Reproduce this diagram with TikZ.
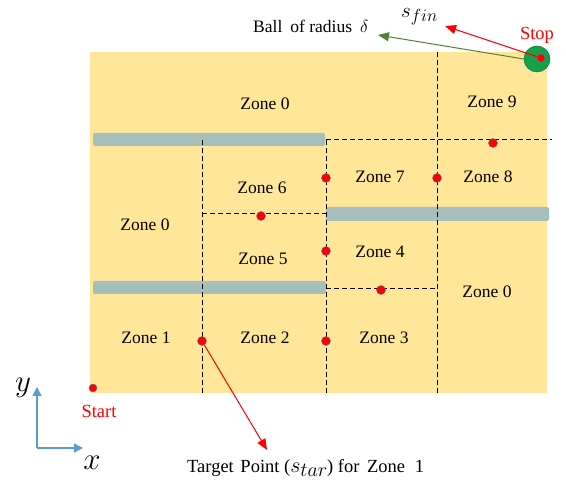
\RequirePackage{fix-cm}
\documentclass[tikz,border=0pt]{standalone}
\usepackage{fontspec}
\setmainfont{Liberation Serif}
\usetikzlibrary{arrows.meta}
\definecolor{field}{HTML}{FFE699}
\definecolor{wall}{HTML}{A7BFBB}
\definecolor{ballgreen}{HTML}{16A04A}
\definecolor{arrowgreen}{HTML}{548235}
\definecolor{axisblue}{HTML}{5B9BD5}
\definecolor{dotrim}{HTML}{5A6E9A}
% state symbol with a large italic subscript
\newcommand{\statesym}[3]{{\fontsize{#1}{#1}\selectfont$s$}\raisebox{-4pt}{\fontsize{#2}{#2}\selectfont$#3$}}
\tikzset{
  wallbar/.style={fill=wall, rounded corners=2pt},
  gridline/.style={dash pattern=on 5pt off 3pt, line width=1pt},
  waypt/.style={circle, fill=red, draw=dotrim, line width=0.4pt, inner sep=0pt, minimum size=9pt},
  zonelabel/.style={font=\fontsize{17.5}{20}\selectfont},
  redlabel/.style={font=\fontsize{18.5}{21}\selectfont, text=red},
  plainlabel/.style={font=\fontsize{17.5}{20}\selectfont, inner sep=0pt},
  redarrow/.style={draw=red, line width=1pt, -{Triangle[length=11pt,width=9pt]}},
  greenarrow/.style={draw=arrowgreen, line width=1pt, -{Triangle[length=11pt,width=9pt]}},
  axisarrow/.style={draw=axisblue, line width=1.3pt, -{Triangle[length=9pt,width=9pt]}},
  axislabel/.style={font=\fontsize{31}{34}\selectfont, inner sep=0pt, anchor=base},
}
\begin{document}
\begin{tikzpicture}[x=1pt,y=-1pt]
\useasboundingbox (0,0) rectangle (566,486);
% workspace
\fill[field] (90,52) rectangle (547,393);
% walls
\fill[wallbar] (93,133) rectangle (325,146);
\fill[wallbar] (326,207) rectangle (549,221);
\fill[wallbar] (93,281) rectangle (326,294);
% zone borders
\draw[gridline] (202,140) -- (202,393);
\draw[gridline] (326,140) -- (326,393);
\draw[gridline] (437,52) -- (437,393);
\draw[gridline] (326,140) -- (552,140);
\draw[gridline] (202,214) -- (326,214);
\draw[gridline] (326,289) -- (437,289);
% zone names
\node[zonelabel] (z0a) at (265,104) {Zone 0};
\node[zonelabel] (z9) at (492,102) {Zone 9};
\node[zonelabel] (z6) at (262,188) {Zone 6};
\node[zonelabel] (z7) at (380,177) {Zone 7};
\node[zonelabel] (z8) at (488,177) {Zone 8};
\node[zonelabel] (z0b) at (145,225) {Zone 0};
\node[zonelabel] (z5) at (263,259) {Zone 5};
\node[zonelabel] (z4) at (380,252) {Zone 4};
\node[zonelabel] (z0c) at (487,292) {Zone 0};
\node[zonelabel] (z1) at (146,338) {Zone 1};
\node[zonelabel] (z2) at (265,338) {Zone 2};
\node[zonelabel] (z3) at (384,338) {Zone 3};
% target points between zones
\node[waypt] (t98) at (493,143) {};
\node[waypt] (t76) at (326,178) {};
\node[waypt] (t87) at (437,178) {};
\node[waypt] (t65) at (261,216) {};
\node[waypt] (t54) at (326,251) {};
\node[waypt] (t43) at (381,290) {};
\node[waypt] (t12) at (202,341) {};
\node[waypt] (t23) at (326,341) {};
\node[waypt, minimum size=8pt] (start) at (93,388) {};
% goal region
\node[circle, fill=ballgreen, draw=ballgreen!70!black, line width=0.5pt, minimum size=26pt, inner sep=0pt] (ball) at (537,59) {};
\node[waypt, minimum size=8pt] (stop) at (541,58) {};
% annotations
\node[redlabel] (stoplbl) at (537,35) {Stop};
\node[redlabel] (startlbl) at (99,411) {Start};
\node[plainlabel, anchor=base west] (balllbl) at (253,33) {Ball\hspace{8pt}of radius\hspace{8pt}$\delta$};
\node[plainlabel, anchor=base west] (sfin) at (401,18) {\statesym{21}{17.5}{fin}};
\node[plainlabel, font=\fontsize{18.5}{21}\selectfont, anchor=base west] (target) at (187,473) {Target\hspace{2pt} Point (\statesym{22}{20}{tar}) for\hspace{3pt} Zone\hspace{5pt} 1};
\coordinate (sfintip) at (445,26);
\coordinate (balltip) at (378,35);
\coordinate (targettip) at (267,450);
\draw[redarrow] (stop) -- (sfintip);
\draw[greenarrow] (ball.west) -- (balltip);
\draw[redarrow] (t12) -- (targettip);
% axes
\coordinate (origin) at (37,448);
\coordinate (ytip) at (37,387);
\coordinate (xtip) at (83,448);
\draw[axisarrow] (origin) -- (ytip);
\draw[axisarrow] (origin) -- (xtip);
\node[axislabel] (ylbl) at (23,392) {$y$};
\node[axislabel] (xlbl) at (92,470) {$x$};
\end{tikzpicture}
\end{document}
